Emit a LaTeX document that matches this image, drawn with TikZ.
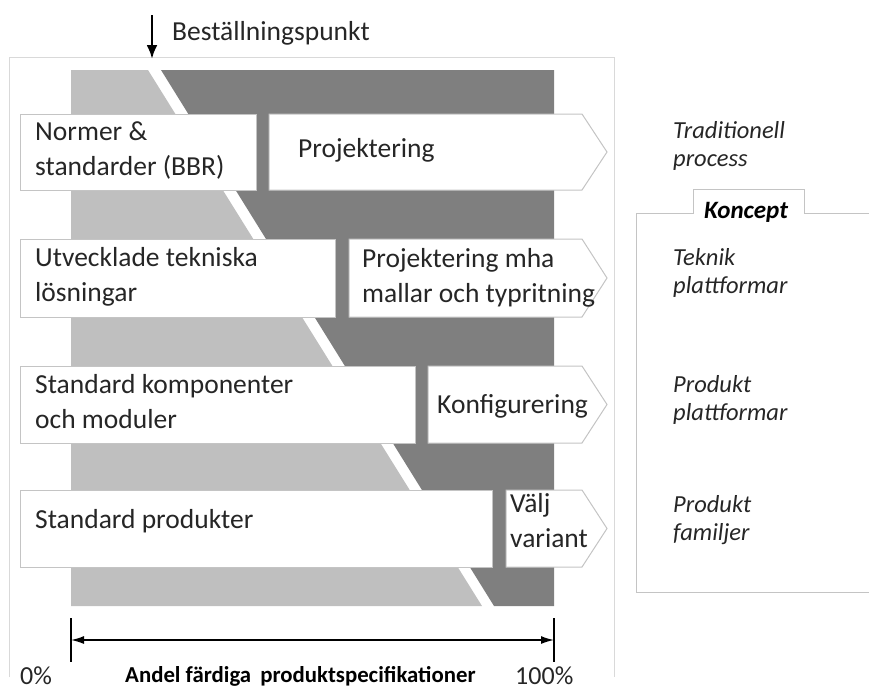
\documentclass[tikz,border=0pt]{standalone}
\usepackage{fontspec}
\setmainfont{Carlito}
\usetikzlibrary{arrows.meta}
\definecolor{bandlight}{HTML}{BFBFBF}
\definecolor{banddark}{HTML}{7F7F7F}
\definecolor{boxline}{HTML}{C4C4C4}
\definecolor{frameline}{HTML}{D9D9D9}
\definecolor{txt}{HTML}{262626}
\begin{document}
\begin{tikzpicture}[x=1pt,y=-1pt,
  stagebox/.style={fill=white,draw=boxline,line width=1pt},
  % multi-line texts are placed by the baseline of their last line
  boxtext/.style={anchor=base west,align=left,inner sep=0pt,text=txt,
    font=\fontsize{27.5}{35}\selectfont},
  sidetext/.style={anchor=base west,align=left,inner sep=0pt,text=txt,
    font=\fontsize{24.5}{28}\selectfont\itshape},
  axisline/.style={line width=1.5pt,{Latex[length=13pt,width=8pt]}-{Latex[length=13pt,width=8pt]}},
  tick/.style={line width=2pt}]
\useasboundingbox (0,0) rectangle (869,689);

% outer frame
\draw[frameline,line width=1pt] (9,677) -- (9,57) -- (614,57) -- (614,677);

% shaded bands split by the order point line
\fill[bandlight] (71,70) -- (148,70) -- (482,606) -- (71,606) -- cycle;
\fill[banddark] (161,70) -- (554,70) -- (554,606) -- (494,606) -- cycle;

% row 1
\draw[stagebox] (20,114) rectangle (256,190);
\draw[stagebox] (269,114) -- (582,114) -- (607,152) -- (582,190) -- (269,190) -- cycle;
\node[boxtext] (norm) at (35,175) {Normer \&\\standarder (BBR)};
\node[boxtext] (proj) at (298,157) {Projektering};

% row 2
\draw[stagebox] (20,239) rectangle (335,317);
\draw[stagebox] (349,239) -- (582,239) -- (607,278) -- (582,317) -- (349,317) -- cycle;
\node[boxtext] (utv) at (35,301) {Utvecklade tekniska\\lösningar};
\node[boxtext] (projmha) at (362,302) {Projektering mha\\mallar och typritning};

% row 3
\draw[stagebox] (20,366) rectangle (415,443);
\draw[stagebox] (428,366) -- (582,366) -- (607,404.5) -- (582,443) -- (428,443) -- cycle;
\node[boxtext] (stdkomp) at (35,428) {Standard komponenter\\och moduler};
\node[boxtext] (konf) at (437,413) {Konfigurering};

% row 4
\draw[stagebox] (20,490) rectangle (492,567);
\draw[stagebox] (506,490) -- (582,490) -- (607,528.5) -- (582,567) -- (506,567) -- cycle;
\node[boxtext] (stdprod) at (35,528) {Standard produkter};
\node[boxtext] (valj) at (510,547) {Välj\\variant};

% order point marker
\coordinate (bp0) at (152,15);
\coordinate (bp1) at (152,59);
\draw[line width=2.6pt,-{Latex[length=14pt,width=11pt]}] (bp0) -- (bp1);
\node[anchor=base west,inner sep=0pt,text=txt,font=\fontsize{27.5}{30}\selectfont] (bestpkt) at (172,40) {Beställningspunkt};

% concept bracket
\draw[boxline,line width=1pt] (869,592) -- (636,592) -- (636,213) -- (693,213) -- (693,189) -- (804,189) -- (804,213) -- (869,213);
\node[anchor=base west,inner sep=0pt,font=\fontsize{25}{28}\selectfont\bfseries\itshape] (koncept) at (704,218) {Koncept};

% side labels
\node[sidetext] (trad) at (673,166) {Traditionell\\process};
\node[sidetext] (teknik) at (673,293) {Teknik\\plattformar};
\node[sidetext] (prodplatt) at (673,420) {Produkt\\plattformar};
\node[sidetext] (prodfam) at (673,540) {Produkt\\familjer};

% axis
\coordinate (a0t) at (71,618); \coordinate (a0b) at (71,662);
\coordinate (a1t) at (554,618); \coordinate (a1b) at (554,662);
\coordinate (a0) at (71,640); \coordinate (a1) at (554,640);
\draw[tick] (a0t) -- (a0b);
\draw[tick] (a1t) -- (a1b);
\draw[axisline] (a0) -- (a1);
\node[anchor=base west,inner sep=0pt,text=txt,font=\fontsize{26}{30}\selectfont] (p0) at (20,684) {0\%};
\node[anchor=base west,inner sep=0pt,text=txt,font=\fontsize{26}{30}\selectfont] (p100) at (515,684) {100\%};
\node[anchor=base west,inner sep=0pt,font=\fontsize{22.8}{26}\selectfont\bfseries] (andel) at (125,682) {Andel färdiga\hspace{4pt} produktspecifikationer};
\end{tikzpicture}
\end{document}
